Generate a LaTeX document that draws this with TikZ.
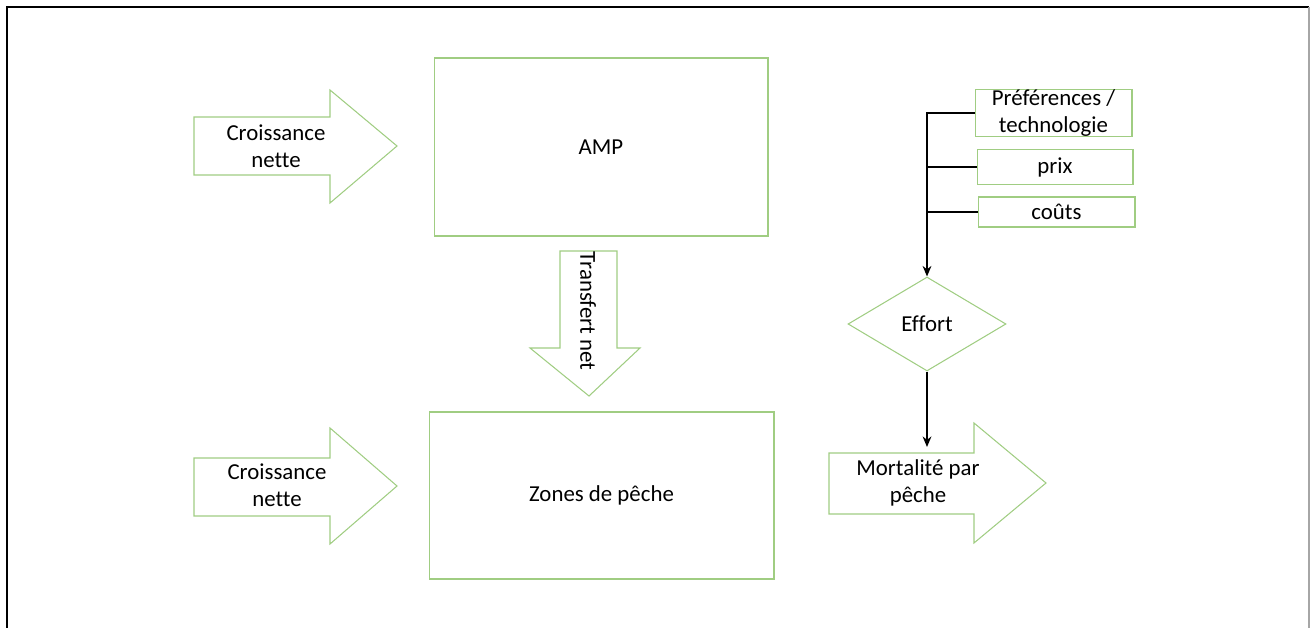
\documentclass[tikz,border=0pt]{standalone}
\usepackage{fontspec}
\setmainfont{Carlito}[Ligatures=NoCommon]
\usepackage{xcolor}
\usetikzlibrary{shapes.geometric,arrows.meta}
\definecolor{boxgreen}{RGB}{160,205,130}

\begin{document}
\begin{tikzpicture}[x=0.02cm,y=-0.02cm,
	greenline/.style={draw=boxgreen, line width=0.6pt},
	box/.style={greenline, rectangle, inner sep=0pt},
	label/.style={font=\fontsize{13pt}{15.5pt}\selectfont, align=center},
	link/.style={line width=0.9pt, black},
	linkarrow/.style={link, -{Stealth[length=6pt,width=5pt]}}]
	\useasboundingbox (0,0) rectangle (1314,628);

	% frame
	\draw[line width=0.6pt] (7,628) -- (7,7) -- (1309,7);
	\draw[line width=1pt, gray!70] (1309,7) -- (1309,628);

	% block arrows
	\draw[greenline] (194,117) -- (330,117) -- (330,90) -- (397,146) -- (330,203) -- (330,175) -- (194,175) -- cycle;
	\draw[greenline] (194,458) -- (330,458) -- (330,428) -- (397,486) -- (330,544) -- (330,516) -- (194,516) -- cycle;
	\draw[greenline] (560,251) -- (617,251) -- (617,348) -- (640,348) -- (589,396) -- (530,348) -- (560,348) -- cycle;
	\draw[greenline] (829,453) -- (974,453) -- (974,423) -- (1046,483) -- (974,543) -- (974,514) -- (829,514) -- cycle;

	\node[label] (growthtop) at (276,146) {Croissance\\nette};
	\node[label] (growthbot) at (277,485) {Croissance\\nette};
	\node[label, rotate=-90] (transfer) at (588,311) {Transfert net};
	\node[label] (mortality) at (918,483) {Mortalité par\\pêche};

	% boxes
	\node[box, label, minimum width=6.68cm, minimum height=3.56cm] (amp) at (601,147) {AMP};
	\node[box, label, minimum width=6.9cm, minimum height=3.34cm] (fishing) at (601.5,495.5) {Zones de pêche};
	\node[box, label, minimum width=3.14cm, minimum height=0.94cm] (prefs) at (1053.5,113) {Préférences /\\technologie};
	\node[box, label, minimum width=3.12cm, minimum height=0.7cm] (price) at (1055,167) {prix};
	\node[box, label, minimum width=3.14cm, minimum height=0.6cm] (costs) at (1056.5,212) {coûts};

	% effort
	\node[greenline, diamond, label, inner sep=0pt, aspect=1.68,
		minimum width=3.16cm, minimum height=1.88cm] (effort) at (927,324) {Effort};

	% connectors
	\coordinate (mortalitytop) at (927,447);
	\draw[linkarrow] (prefs.west) -| (effort.north);
	\draw[link] (price.west) -- (price.west -| effort.north);
	\draw[link] (costs.west) -- (costs.west -| effort.north);
	\draw[linkarrow] (effort.south) -- (mortalitytop);
\end{tikzpicture}
\end{document}
